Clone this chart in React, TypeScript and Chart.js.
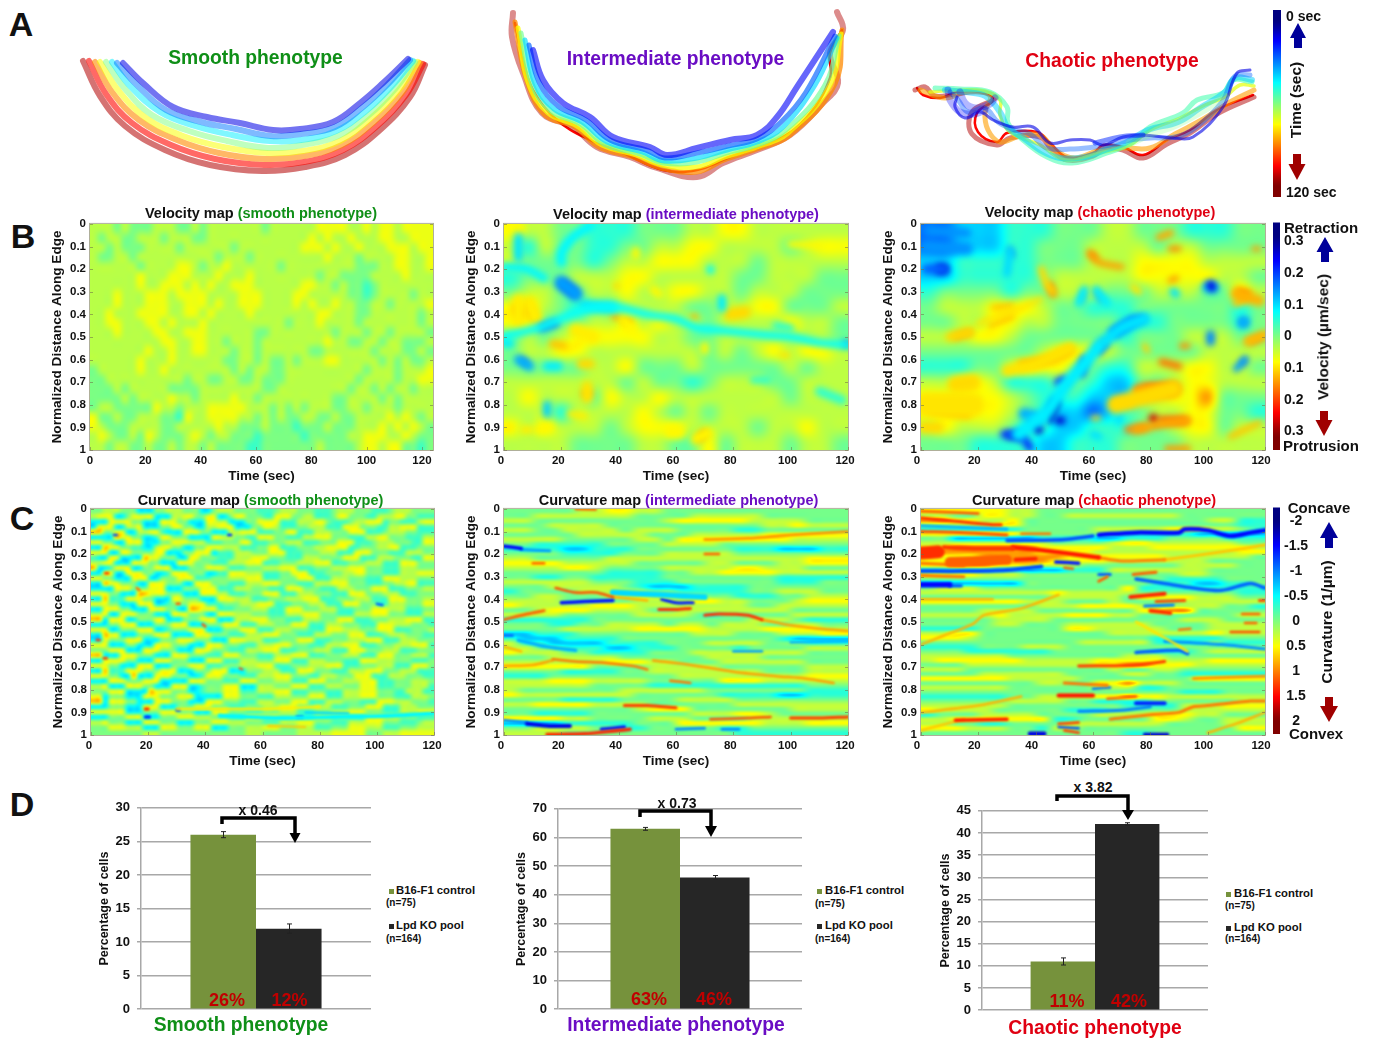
import React, { useEffect, useRef } from "react";
import { Chart, registerables } from "chart.js";

Chart.register(...registerables);
Chart.defaults.font.family = '"Liberation Sans", Arial, sans-serif';

/* ---------- shared value tables ---------- */
const LEVELS = [0.06, 0.14, 0.24, 0.33, 0.42, 0.49, 0.56, 0.62, 0.72, 0.84];
const colorbarLevels = [0, 0.125, 0.25, 0.375, 0.5, 0.625, 0.75, 0.875, 1];
const timeTicks = [0, 20, 40, 60, 80, 100, 120];

/* ---------- panel A: edge contours (x, y pairs, one list per time step) ---------- */
const smoothTimes = [0.1, 0.24, 0.36, 0.5, 0.62, 0.74, 0.87, 0.95];
const smoothEdges = [
  [123,63,143,83,173,107,207,117,240,123,273,130,300,129,333,122,360,103,383,83,408,59],
  [117,63,137,85,166,110,201,122,236,129,271,136,301,134,335,127,363,107,387,85,410,60],
  [112,62,131,87,160,112,195,126,232,135,270,141,301,140,336,131,366,111,391,87,413,61],
  [106,62,125,89,152,115,189,131,227,141,268,148,302,145,338,136,369,115,395,89,415,62],
  [100,62,118,90,146,118,183,136,223,147,267,153,303,151,340,141,371,118,398,91,418,62],
  [95,62,112,92,139,120,177,140,219,153,265,159,304,156,342,145,374,122,402,93,420,63],
  [89,61,106,94,132,123,171,145,215,159,264,165,304,162,343,150,377,126,406,95,423,64],
  [83,61,100,96,125,126,165,150,210,165,262,171,305,167,345,155,380,130,410,97,425,65],
];
const interTimes = [0.12, 0.22, 0.34, 0.48, 0.62, 0.74, 0.95, 0.87];
const interEdges = [
  [533,50,543,80,563,103,590,117,613,137,650,147,667,155,697,148,730,140,757,135,777,117,797,87,833,32],
  [529,45,539,82,558,106,586,120,610,140,646,150,665,158,697,153,728,146,757,139,781,122,806,92,835,36],
  [525,40,535,84,554,109,582,122,607,142,642,152,664,161,697,158,727,150,757,142,783,127,815,85,837,38],
  [521,33,532,84,551,111,580,124,604,144,640,154,663,163,697,162,726,153,757,145,786,130,825,85,839,36],
  [518,28,528,82,548,113,577,126,602,145,636,155,662,165,697,167,725,157,757,147,788,133,830,85,841,34],
  [515,22,526,78,545,115,575,127,599,147,633,157,661,168,697,172,724,160,757,149,790,135,835,84,842,30],
  [513,13,512,37,523,73,542,113,573,127,597,147,630,157,657,168,697,177,723,163,757,150,790,135,823,103,838,83,830,53,843,30,837,12],
  [515,23,523,60,533,90,557,120,590,140,623,153,663,170,697,170,730,157,777,140,807,117,830,78,830,53,842,30],
];
const chaosTimes = [0.12, 0.14, 0.16, 0.5, 0.1, 0.22, 0.33, 0.45, 0.6, 0.72, 0.95, 0.87];
const chaosEdges = [
  [948,90,950,100,960,112,975,114,985,110],
  [960,92,965,103,975,108,990,104,995,98],
  [1095,143,1120,137,1143,135],
  [1130,143,1150,134,1175,125,1200,112,1225,97],
  [957,97,955,107,965,118,980,112,993,120,1013,127,1033,127,1050,143,1070,140,1090,140,1103,145,1123,137,1143,135,1173,138,1193,137,1223,107,1237,73,1250,70],
  [950,92,958,100,968,112,985,108,998,122,1015,130,1030,134,1047,148,1070,149,1095,147,1110,145,1130,140,1150,138,1175,137,1195,128,1222,102,1235,76,1250,75],
  [945,90,965,92,985,96,1000,112,1008,128,1022,137,1040,150,1060,158,1085,157,1105,150,1125,143,1148,130,1178,122,1200,108,1225,92,1235,78,1252,80],
  [935,88,960,89,990,92,1007,107,1008,123,1023,140,1047,157,1072,163,1107,153,1133,142,1150,127,1183,113,1197,100,1223,93,1233,80,1252,82],
  [930,92,960,90,985,91,1000,100,1000,115,1010,132,1040,145,1065,160,1100,153,1130,145,1150,130,1180,118,1205,105,1225,97,1240,85,1254,86],
  [920,90,945,98,970,91,990,96,985,112,988,130,1000,142,1020,136,1040,135,1055,150,1075,158,1100,150,1125,148,1150,148,1175,134,1205,118,1230,102,1254,90],
  [915,90,925,87,935,96,955,94,980,92,995,98,972,112,972,134,997,145,1010,138,1040,137,1052,150,1067,160,1093,156,1105,148,1123,150,1143,158,1167,144,1190,133,1217,114,1254,97],
  [917,88,923,95,940,98,957,92,980,92,993,100,977,113,978,132,997,142,1007,133,1037,132,1050,143,1067,157,1093,153,1103,145,1123,147,1143,155,1167,140,1190,130,1217,110,1253,95],
];

/* ---------- panel B: velocity maps, colour level per cell (rows: distance, columns: time) ---------- */
const velocitySmooth = [
  "66656555666556566666665666666777766767767777","65665566656665566666666666667676676667766777",
  "66565556666566666656666666677767667666777677","65566566666666665666566666666676665666677667",
  "66666656666776566766666656666666665556677667","66666676667776667666766666666566555566667666",
  "66666676677767676677766666677665655456666666","66676667776777766667776666776666655456666566",
  "66676667776677767667776666767667665566566667","66766677776677676666766666666776665566666656",
  "66776667767666766666666665666766665666666656","66676666776677766666655666666665666566566665",
  "66666666677667766566656666666676655665665556","66666667667667766656656666665566666656665565",
  "66666676667666666556656556566677666665656556","56666676676666666656566556666666666566656667",
  "55666666666656655665565556666666665666656677","55565666665555666666665566666666656656566566",
  "55556566667665666676656666666665566665656666","56655555766566677777666565656665566566656666",
  "75565566655476677776656565566556556666767656","76555666655666667665556555455565556667676765",
  "67655657655567656655545555545555566777667655","66566556556566565555445555555655556776775545",
];
const velocityInter = [
  "766554445556677666666","646554455667766665677","655554566777666566666","455566677666665566655",
  "566556676677665666555","776545566665566775556","775556676766566667665","565677777665566666665",
  "566776666666565676776","555556675556555556566","666666656554566655666","676665766766666665666",
  "666466667656566666666","767666567776666566766","666655556655756665665",
];
const velocityChaos = [
  "223334445556655544455","223334455566665665555","334444455566677776666","334444456666677777665",
  "455554556665556665576","566677765544455555545","556677665555444555545","666776555555455566655",
  "555555567776555556666","444556777654466677665","667764445543355677666","777776544433356778555",
  "777776543323456677554","676665443344455677566","555444433444555566666",
];
// each streak: colour position, stroke width, then time, distance pairs
const velocityInterStreaks = [
  [.35,9,5,.06,5,.15],[.37,10,30,.01,24,.06,20,.13,20,.17],[.37,8,0,.19,8,.2,14,.24],
  [.28,14,20,.26,25,.31],[.13,8,20.5,.265,24.5,.305],
  [.38,8,0,.5,6,.48,12,.46,18,.43,25,.39,32,.37,40,.37,50,.4,60,.42,67,.46,75,.47,90,.49,100,.5,110,.525,120,.535],
  [.35,10,28,.36,38,.37],[.22,7,13,.46,18,.44],[.36,9,0,.52,2,.53],[.22,6,119,.53,120,.53],
  [.3,9,5,.6,9,.63],[.2,5,6,.6,8,.62],[.36,9,15,.63,19,.63],[.33,8,15,.8,15,.84],[.36,9,76,.33,76,.37],
  [.38,8,72,.2,72,.205],[.42,8,95,.45,100,.46],[.42,7,87,.69,92,.69],[.42,9,110,.74,118,.78],
  [.64,14,5,.34,5,.43],[.64,14,9,.35,11,.42],[.75,7,4.5,.37,5.5,.4],[.75,6,8,.36,10,.41],
  [.64,14,25,.47,31,.5],[.68,8,17,.53,21,.54],[.66,10,27,.62,30,.62],[.65,12,29,.72,29,.77],[.74,5,28,.75,30,.75],
  [.63,10,42,.43,45,.47],[.71,5,38,.41,40,.415],[.73,5,42,.43,44,.435],[.7,5,66,.41,67,.41],[.66,13,79,.4,84,.39],
  [.63,8,70,.54,70,.56],[.63,13,58,.92,61,.92],[.63,11,67,.95,71,.925],[.76,6,68,.95,70,.925],[.65,6,97,.58,99,.58],
  [.64,8,7,.91,9,.91],[.64,8,1,.9,2,.9],[.63,8,46,.12,46,.14],[.63,7,100,.09,110,.095],[.63,8,52,.29,54,.31],
  [.66,6,39,.275,39.5,.275],[.64,7,23,.84,28,.85],[.63,9,12,.91,16,.9],[.63,8,4,.01,6,.02],
];
const velocityChaosStreaks = [
  [.27,10,3,.03,16,.04],[.27,13,2,.1,16,.11],[.22,10,2,.2,8,.2],[.08,10,6.5,.2,8,.2],[.34,8,31,.12,30,.22],[.24,4,31,.11,32,.14],
  [.66,7,42,.2,44,.27,46,.3],[.75,7,45,.27,46,.31],[.72,6,59,.13,62,.17,70,.19],[.76,5,59,.13,61,.15],
  [.71,7,83,.06,87,.04],[.75,5,87,.11,90,.11],[.72,6,87,.25,89,.24],[.65,7,74,.28,76,.3],
  [.1,9,101,.27,101.5,.28],[.32,12,100,.28,102,.28],[.35,8,88,.3,89,.31],
  [.36,8,57,.29,55,.35],[.36,8,61,.29,65,.35],[.3,4,57,.3,56,.34],[.28,4,61,.3,63,.34],
  [.7,11,110,.31,118,.34],[.74,8,111,.3,114,.31],[.68,8,110,.35,113,.33],
  [.3,10,112,.44,113,.43],[.18,5,112,.43,113,.44],[.26,9,101,.49,101,.52],[.28,7,110,.64,113,.6],[.2,4,112,.62,113,.6],
  [.69,10,114,.52,120,.49],[.75,6,115,.52,119,.5],[.73,6,91,.54,93,.54],[.67,6,78,.54,79,.56],[.76,7,84,.61,90,.63],
  [.66,9,10,.5,17,.48],[.72,6,12,.5,17,.48],[.65,5,20,.44,35,.37,42,.33],[.7,4,24,.45,32,.41],[.7,4,25,.37,32,.36],
  [.65,12,30,.65,40,.62,52,.55],[.7,8,35,.62,45,.6,52,.56],[.66,16,12,.71,18,.7],[.65,24,2,.8,18,.8],[.68,10,4,.82,16,.84],[.66,12,1,.9,6,.9],
  [.36,14,34,.93,39,.88,44,.83,50,.72,57,.62,62,.54],[.35,12,64,.52,70,.46,78,.42],[.25,9,74,.43,67,.48],
  [.18,8,29,.93,35,.94,38,.99],[.1,7,31,.935,35,.94],[.3,12,36,.84,41,.86],[.08,9,39,.87,41,.91],[.06,8,45,.84,47,.79],[.08,6,45,.87,47,.79],[.08,8,48,.87,49,.87],
  [.16,8,48,.7,50,.69],[.2,8,57,.6,56,.66],[.2,8,62,.56,64,.53],[.22,8,68,.48,74,.43,77,.42],
  [.66,18,68,.8,88,.73],[.74,15,76,.74,88,.73],[.79,9,79,.73,86,.73],[.7,7,68,.79,73,.79],
  [.71,9,75,.91,86,.88,93,.87],[.79,8,84,.87,92,.87],[.92,9,81,.86,81.5,.87],[.75,7,72,.91,78,.9],
  [.72,7,86,.995,93,.995],[.68,6,108,.94,118,.88],[.35,8,69,.85,69,.87],[.35,8,60,.93,62,.94],[.66,5,60,.86,62,.86],[.72,5,116,.11,118,.11],
];

/* ---------- panel C: curvature maps ---------- */
const curvatureSmooth = [
  "556665553335566655533566655554445666555444566655544456665555",
  "677733577773336677557733577555447775566444577555446667755444",
  "333777755333777553337766333557777444666775444566777455444677",
  "377733667333557755336677733355776444556664447775554466777444",
  "885577336677433377755333667774445577444666555777444566655444",
  "333387755334775553333776655447775544466777555444667755544466",
  "775533777333557776664445557744455566644455577744456665554477",
  "338775544336775533557776664445577444555667777445556677444555",
  "777337755557733355777344466655577744455566644477755544466655",
  "433773333877555337755544466677755544466655557774446665554477",
  "667733377755333777555444666777444555666777444555666444777555",
  "833477733557773335557776444555666777444555666777555444666555",
  "337733777553347775553344777666444557774445556677555444666777",
  "775533377733555777444555666777444555777444666555444777666555",
  "338775553377755533777555444666777555444666777555444556677444",
  "333377755577733355577744466655544477755544466655577744455566",
  "777553338877755533377766444555777444666555444777555666444555",
  "338444777553337755533377766644455566677744455566644477755566",
  "777553337773345557774445556667774445556664447775554466655577",
  "337775533377755338877744455566644477755566644455577766644455",
  "667337775553337775553377766655544466677755544466677755544466",
  "883777335557733355577733366677755544466655577744455566677744",
  "333557773335557773335557774446665557774446665554447776665554",
  "777335557773345557773335557774446665554447776665557774445556",
  "338773335557773333777555444666777555444666555777444566655544",
  "337555777333555777555333777666444555777444555666777444666555",
  "777333553337775553337775554446667775554446667774445556667774",
  "555777333777555333777555444666777444555666444777555666444555",
  "883337775553337775554447775554446667774445556664447775556664",
  "337777553337775553337774446665557774446665554447776665554445",
  "777553337773335557774445556667774445556667774445556664447775",
  "338444777555777333555777333555666444777555444666777555666444",
  "777553383337775553347775554446667775554466655577744466655544",
  "333777555777333337775554447775556664447775556667774445556665",
  "667333777553337773345557773336665557774446665557774445556664",
  "555777333387775553345557774446667774445554446667775554466644",
  "773555333777555777333337775554446665557774446667775554446665",
  "883777553337775553337775554446665557774446665554447776665554",
  "333555333777333555777555444555666777555666444555777444666555",
  "777777333555777555333777555444555666444555666777555444666777",
  "333555777333555777666555444777666555444666555444777666555444",
  "667555333777555333555777666555444666777555444666777555444566",
  "555777666333777555777333555666777555666444555777666444555666",
  "555555555666555555555555555666555555666666777777555666777777",
];
const curvatureSmoothStreaks = [
  [.64,2.5,30,.885,45,.885,60,.885,80,.875],[.37,4,45,.915,65,.925,85,.92,105,.915,120,.905],
  [.68,2,62,.96,75,.965],[.34,2.5,75,.9,90,.905],[.82,2.5,5,.285,6,.285],[.82,2.5,2,.58,3,.58],[.82,2.5,4.5,.66,5.5,.66],
  [.84,3,19,.885,20,.885],[.16,3,19,.92,20.5,.92],[.8,2,52,.705,53,.71],[.18,2.5,30,.89,31,.89],[.18,2.5,48,.115,49,.115],
  [.2,2.5,72,.92,74,.92],[.78,2.5,39,.51,40,.52],[.78,2.5,30,.42,31,.42],[.22,2.5,100,.42,102,.425],[.76,2.5,16,.35,17,.36],[.2,2.5,8,.115,9,.115],
];
const curvatureInter = [
  "555556677665555555555555","556666666555566666555555","665555555556777776666555","555666655555555555667666",
  "665566665666555544555555","555556666655566666777777","666655555665777777776666","554444455556666555555555",
  "444433444555555544433344","555544445556666655555555","665555566666666666666777","777766666555556655566777",
  "666677655556666677666555","555555544445566777766666","554455444445555555544444","666666555444555555544455",
  "555666665433344445555555","455556666655444445566655","556655566777665544455666","666655555666677665556777",
  "766666777666666665566666","556777666655666666665555","666655555666654555556666","444444555555555556665444",
  "555445566665665666556655","555566666777776666777766","334445555555566655566677","433344445555555555543333",
  "644333344445556666555444","665544433444555545555666","766655444455566666666555","555666665555556666555555",
  "666666677766555666666555","777777555566666555555666","555544445566666666555666","444555555555666666666777",
  "666777666655555777666666","666666555544444444444555","655555556666665555555444","766666666555555444433444",
  "555544445555666655555555","667777666655555566666666","555555555677755555556666","554444555555566677655555",
  "777766555566655556666666","333344444555777777666777","556666554455555445555555","666655555555555544444444",
];
const curvatureInterStreaks = [
  [.12,3.5,0,.165,6,.175],[.28,3,6,.18,16,.185],[.1,4,8,.95,16,.96,23,.96],[.25,2.5,0,.935,8,.945],
  [.84,3.5,15,.998,28,.995,40,.98,44,.975],[.15,3.5,34,.975,42,.965],[.25,2.5,60,.975,70,.97],[.25,2.5,76,.975,82,.975],
  [.14,3.5,20,.415,28,.41,38,.405],[.8,2.5,18,.35,25,.37,32,.37,38,.39],[.7,2.5,38,.39,50,.405],
  [.78,3,0,.49,8,.465,14,.45],[.83,3,54,.445,60,.445,65,.44],[.83,3,70,.47,75,.465,85,.47,90,.49],[.72,2.5,90,.49,100,.515,110,.53,120,.54],
  [.34,6,38,.37,55,.38,70,.39],[.15,3,55,.4,60,.415,66,.415],[.22,2.5,0,.56,3,.56],[.3,3.5,5,.58,15,.61,25,.625],
  [.76,2.5,17,.665,25,.675,35,.68,45,.695,50,.71],[.72,2.5,0,.695,10,.69,17,.67],[.72,2.5,52,.67,65,.69,80,.72,95,.74,105,.75,115,.77],
  [.76,2.5,58,.76,65,.77],[.82,3,42,.87,50,.87,60,.88],[.8,2.5,72,.93,85,.925,93,.92],[.82,3,100,.925,110,.925,120,.92],
  [.74,2.5,70,.135,85,.13,100,.115,120,.1],[.78,2.5,70,.2,75,.2],[.78,2.5,25,0,32,.003],[.28,2.5,80,.63,90,.63],[.3,2.5,100,.59,120,.585],
  [.7,2.5,0,.61,6,.63],[.78,2.5,10,.24,14,.24],
];
const curvatureChaos = [
  "777777665555555555555555","665577665566666666555555","887766755555555555556644","666667755555555555555544",
  "444444455555666667776654","777777755555554444433333","553333334444334445555444","666666666555567766666655",
  "778888887777766677777776","888888887777666666666677","777788888877777776666665","777888888777766666665555",
  "778887776665555555666655","444444433344466666665555","777766655555555555665555","555555555555555554444555",
  "333333355555555544433445","566655555555557444444444","666666666766666555555544","555555555666665777766655",
  "777777766655565555666666","555555556667777666666554","555566665555555778855555","666667666677766555555566",
  "555556666555555555666555","555556655566666655556666","444455555577666665556666","667755555555566666667666",
  "777655555555555544444555","555555555556666644445444","444455566655555555555555","555444444555555544456666",
  "666666555555556665555555","677777766666777776667777","555666666666778877766666","666555555555565566555555",
  "555566666655556655444444","777777666665555555577777","555555556655778666555555","666666555555666445555555",
  "555555555555555555444555","444444556666778776666666","555555666655444455555566","666666555555554444666777",
  "766665555544455555666666","455566665555666677766555","667777777445555577655666","665544555566666665555666",
  "777666554665555555555577","555555555555554455555555",
];
const curvatureChaosStreaks = [
  [.8,2.5,0,.01,20,.02],[.83,3,0,.04,12,.055,25,.07,28,.07],[.3,3,0,.075,30,.09],[.8,3,0,.1,15,.105,30,.115],[.76,2.5,35,.11,45,.11],
  [.2,3.5,30,.14,50,.135,60,.12],[.13,4.5,62,.115,75,.105,90,.105,92,.09,100,.095,108,.12,115,.105,120,.095],
  [.83,13,0,.195,6,.19],[.82,4.5,8,.17,20,.175,32,.175],[.85,4.5,32,.17,40,.18,50,.195,62,.215],[.75,3,62,.215,70,.23,85,.225],[.68,3,85,.225,105,.19,120,.16],
  [.78,10,10,.235,20,.23,30,.225],[.88,4,18,.235,30,.225],[.84,4,33,.225,40,.22],[.76,3,0,.24,15,.25],
  [.2,4,0,.275,15,.275,30,.27,42,.255],[.15,3.5,47,.235,55,.24],[.78,2.5,50,.26,53,.265],[.78,2.5,0,.295,15,.3],[.13,5.5,0,.335,10,.335],[.22,3.5,10,.34,14,.34],
  [.78,3,74,.29,82,.28],[.78,3,62,.32,65,.3],[.22,3,62,.29,66,.29],[.22,3.5,75,.31,85,.33,95,.35,105,.36,115,.33,120,.35],
  [.84,4,73,.39,85,.375],[.7,2.5,0,.4,25,.4],[.8,3,82,.41,92,.405],[.83,4,80,.45,87,.46],[.25,3,78,.43,88,.425],
  [.7,2.5,0,.6,8,.56,18,.51,22,.47,35,.44,48,.38],[.65,2.5,75,.5,85,.57,93,.63],[.27,3,85,.585,105,.6,120,.62],[.22,3.5,75,.635,90,.625,93,.64],
  [.82,3,55,.695,75,.69,85,.675],[.76,3,50,.77,65,.78],[.86,4,48,.825,60,.825],[.24,2.5,60,.795,66,.79],[.78,2.5,65,.84,75,.83],[.16,4,75,.86,85,.86],
  [.25,3,55,.895,70,.89,80,.875],[.7,2.5,0,.9,20,.87,35,.83],[.85,3.5,12,.935,30,.93],[.76,3,66,.93,80,.91,90,.9,95,.875,100,.87,115,.85,120,.85],
  [.68,2.5,0,.98,15,.93],[.7,2.5,100,.99,110,.95,120,.9],[.1,4.5,38,.995,43,.995],[.08,3.5,78,.998,86,.998],[.82,2.5,48,.95,55,.945],[.82,2.5,50,.98,55,.99],[.2,2.5,48,.965,55,.97],
  [.74,2.5,95,.75,120,.74],[.78,2.5,112,.465,118,.465],[.78,2.5,113,.505,117,.505],[.8,2.5,108,.545,118,.545],[.83,2.5,118,.405,120,.405],[.76,2.5,90,.535,94,.53],
];

/* ---------- panel D: bars ---------- */
const barGroups = ["B16-F1 control", "Lpd KO pool"];
const smoothPercent = [26, 12];
const smoothError = [0.45, 0.7];
const interPercent = [63, 46];
const interError = [0.5, 0.7];
const chaosPercent = [11, 42];
const chaosError = [0.8, 0.3];

/* ---------- colour helpers ---------- */
function jet(p: number): [number, number, number] {
  const v = Math.max(0, Math.min(1, p)) * 4;
  const c = (a: number) => Math.max(0, Math.min(1, 1.5 - Math.abs(v - a)));
  return [c(3) * 255, c(2) * 255, c(1) * 255];
}
const jetCss = (p: number, a = 1) => {
  const [r, g, b] = jet(p);
  return `rgba(${r | 0},${g | 0},${b | 0},${a})`;
};
const parseGrid = (rows: string[], gain = 1) =>
  rows.map((r) => [...r].map((c) => 0.53 + (LEVELS[+c] - 0.53) * gain));
const pairs = (a: number[], from = 0) => {
  const out: { x: number; y: number }[] = [];
  for (let i = from; i < a.length; i += 2) out.push({ x: a[i], y: a[i + 1] });
  return out;
};

function catmull(a: number, b: number, c: number, d: number, t: number) {
  return 0.5 * (2 * b + (c - a) * t + (2 * a - 5 * b + 4 * c - d) * t * t + (3 * b - a - 3 * c + d) * t * t * t);
}
function sample(g: number[][], u: number, v: number) {
  const R = g.length, C = g[0].length;
  const fy = v * R - 0.5, fx = u * C - 0.5;
  const iy = Math.floor(fy), ix = Math.floor(fx);
  const ty = fy - iy, tx = fx - ix;
  const row = (j: number) => {
    const r = g[Math.max(0, Math.min(R - 1, j))];
    const at = (i: number) => r[Math.max(0, Math.min(r.length - 1, i))];
    return catmull(at(ix - 1), at(ix), at(ix + 1), at(ix + 2), tx);
  };
  return catmull(row(iy - 1), row(iy), row(iy + 1), row(iy + 2), ty);
}

/* ---------- plugins ---------- */
const softPlugin = {
  id: "soft",
  beforeDatasetsDraw(chart: any, _a: any, opts: any) {
    if (!opts.blur) return;
    chart.ctx.save();
    chart.ctx.filter = `blur(${opts.blur}px)`;
  },
  afterDatasetsDraw(chart: any, _a: any, opts: any) {
    if (opts.blur) chart.ctx.restore();
  },
};
const heatPlugin = {
  id: "heat",
  beforeDatasetsDraw(chart: any, _a: any, opts: any) {
    if (!opts.grid) return;
    const { left, top, width, height } = chart.chartArea;
    const xs = chart.scales.x, ys = chart.scales.y;
    const W = Math.round(width), H = Math.round(height);
    const off = document.createElement("canvas");
    off.width = W; off.height = H;
    const octx = off.getContext("2d")!;
    const img = octx.createImageData(W, H);
    for (let py = 0; py < H; py++) {
      const vv = (ys.getValueForPixel(top + py + 0.5) - ys.min) / (ys.max - ys.min);
      for (let px = 0; px < W; px++) {
        const uu = (xs.getValueForPixel(left + px + 0.5) - xs.min) / (xs.max - xs.min);
        const [r, g, b] = jet(sample(opts.grid, uu, vv));
        const k = (py * W + px) * 4;
        img.data[k] = r; img.data[k + 1] = g; img.data[k + 2] = b; img.data[k + 3] = 255;
      }
    }
    octx.putImageData(img, 0, 0);
    const ctx = chart.ctx;
    ctx.save();
    ctx.beginPath();
    ctx.rect(left, top, W, H);
    ctx.clip();
    ctx.drawImage(off, left, top);
    if (opts.imgBlur) {
      ctx.filter = `blur(${opts.imgBlur}px)`;
      ctx.drawImage(off, left, top);
    }
    ctx.restore();
    if (opts.blur) {
      ctx.save();
      ctx.filter = `blur(${opts.blur}px)`;
    }
  },
  afterDatasetsDraw(chart: any, _a: any, opts: any) {
    if (!opts.grid) return;
    const ctx = chart.ctx;
    if (opts.blur) ctx.restore();
    if (opts.frame) {
      const { left, top, width, height } = chart.chartArea;
      ctx.save();
      ctx.strokeStyle = "rgba(110,110,70,0.55)";
      ctx.lineWidth = 1;
      ctx.strokeRect(left - 0.5, top - 0.5, width + 1, height + 1);
      ctx.beginPath();
      chart.scales.y.ticks.forEach((t: any) => {
        const y = Math.round(chart.scales.y.getPixelForValue(t.value)) + 0.5;
        ctx.moveTo(left, y); ctx.lineTo(left + 3, y);
        ctx.moveTo(left + width, y); ctx.lineTo(left + width - 3, y);
      });
      chart.scales.x.ticks.forEach((t: any) => {
        const x = Math.round(chart.scales.x.getPixelForValue(t.value)) + 0.5;
        ctx.moveTo(x, top + height); ctx.lineTo(x, top + height - 3);
      });
      ctx.stroke();
      ctx.restore();
    }
  },
};

const errorPlugin = {
  id: "errs",
  afterDatasetsDraw(chart: any, _a: any, opts: any) {
    if (!opts.errors) return;
    const ctx = chart.ctx, y = chart.scales.y;
    ctx.save();
    ctx.strokeStyle = "#222";
    ctx.lineWidth = 1;
    chart.data.datasets.forEach((ds: any, i: number) => {
      const el = chart.getDatasetMeta(i).data[0];
      const v = ds.data[0], e = opts.errors[i];
      const x = Math.round(el.x) + 0.5;
      const a = y.getPixelForValue(v + e), b = y.getPixelForValue(v - e);
      ctx.beginPath();
      ctx.moveTo(x, a); ctx.lineTo(x, b);
      ctx.moveTo(x - 2.5, a); ctx.lineTo(x + 2.5, a);
      ctx.moveTo(x - 2.5, b); ctx.lineTo(x + 2.5, b);
      ctx.stroke();
    });
    ctx.restore();
  },
};
Chart.register(heatPlugin as any, errorPlugin as any, softPlugin as any);

/* ---------- chart configs ---------- */
const LEFT = 48, TOPPAD = 8, RIGHT = 15, BOTTOM = 36, EXTRA = 2;

function heatConfig(grid: number[][], streaks: number[][], xMax: number, labelOffset: number, blur: number, imgBlur = 0) {
  return {
    type: "scatter",
    data: {
      datasets: streaks.map((s) => ({
        data: pairs(s, 2),
        showLine: true,
        borderColor: jetCss(s[0]),
        borderWidth: s[1],
        borderCapStyle: "round",
        borderJoinStyle: "round",
        pointRadius: 0,
        tension: 0.3,
      })),
    },
    options: {
      animation: false,
      responsive: false,
      events: [],
      layout: { autoPadding: false, padding: { top: TOPPAD, right: RIGHT, left: 0, bottom: 0 } },
      plugins: { legend: { display: false }, tooltip: { enabled: false }, heat: { grid, blur, imgBlur, frame: true } },
      scales: {
        x: {
          type: "linear", min: 0, max: xMax,
          afterFit: (s: any) => { s.height = BOTTOM; },
          grid: { display: false, drawTicks: false }, border: { display: false },
          afterBuildTicks: (s: any) => { s.ticks = timeTicks.map((value) => ({ value })); },
          ticks: { padding: 4, maxRotation: 0, autoSkip: false, labelOffset, color: "#111", font: { size: 11.5, weight: "bold" } },
          title: { display: true, text: "Time (sec)", color: "#111", padding: { top: 0, bottom: 2 }, font: { size: 13.5, weight: "bold" } },
        },
        y: {
          type: "linear", min: 0, max: 1, reverse: true,
          afterFit: (s: any) => { s.width = LEFT; },
          grid: { display: false, drawTicks: false }, border: { display: false },
          ticks: {
            stepSize: 0.1, padding: 4, color: "#111", font: { size: 11.5, weight: "bold" },
            callback: (v: number) => (v === 0 || v === 1 ? String(v) : Number(v).toFixed(1)),
          },
          title: { display: true, text: "Normalized Distance Along Edge", color: "#111", padding: { top: 7, bottom: 0 }, font: { size: 13.6, weight: "bold" } },
        },
      },
    },
  };
}

function barConfig(values: number[], errors: number[], max: number, step: number) {
  return {
    type: "bar",
    data: {
      labels: ["phenotype"],
      datasets: barGroups.map((label, i) => ({
        label,
        data: [values[i]],
        backgroundColor: i === 0 ? "#76923c" : "#262626",
        barPercentage: 1,
        categoryPercentage: 0.57,
      })),
    },
    options: {
      animation: false,
      responsive: false,
      events: [],
      layout: { autoPadding: false, padding: { top: 8, right: 2, left: 0, bottom: 5 } },
      plugins: { legend: { display: false }, tooltip: { enabled: false }, errs: { errors } },
      scales: {
        x: { display: false },
        y: {
          min: 0, max,
          afterFit: (s: any) => { s.width = 45; },
          grid: { color: "#a8a8a8", lineWidth: 1.5, tickLength: 4, tickColor: "#a8a8a8" },
          border: { color: "#a8a8a8", width: 1.5 },
          ticks: { stepSize: step, padding: 7, color: "#111", font: { size: 13, weight: "bold" } },
          title: { display: true, text: "Percentage of cells", color: "#111", padding: { top: 1, bottom: 0 }, font: { size: 12.5, weight: "bold" } },
        },
      },
    },
  };
}

function edgeConfig(edges: number[][], times: number[], w: number, h: number, x0: number, y0: number, widths: number[], alpha: number[], blur: number, hatch: number) {
  const lines = edges.map((e, i) => ({
    data: pairs(e),
    showLine: true,
    borderColor: jetCss(times[i], alpha[i]),
    borderWidth: widths[i],
    borderCapStyle: "round",
    pointRadius: 0,
    tension: 0.4,
  }));
  const sheen = hatch
    ? edges.map((e) => ({
        data: pairs(e),
        showLine: true,
        borderColor: `rgba(255,255,255,${hatch})`,
        borderWidth: 1,
        pointRadius: 0,
        tension: 0.4,
      }))
    : [];
  return {
    type: "scatter",
    data: { datasets: [...sheen, ...lines] },
    options: {
      animation: false,
      responsive: false,
      events: [],
      layout: { autoPadding: false, padding: 0 },
      plugins: { legend: { display: false }, tooltip: { enabled: false }, soft: { blur } },
      scales: {
        x: { type: "linear", display: false, min: x0, max: x0 + w },
        y: { type: "linear", display: false, min: y0, max: y0 + h, reverse: true },
      },
    },
  };
}

function colorbarConfig(min: number, max: number, step: number | null, fmt: (v: number) => string, cross: string) {
  const grid = colorbarLevels.map((p) => [p]);
  return {
    type: "scatter",
    data: { datasets: [] },
    options: {
      animation: false,
      responsive: false,
      events: [],
      layout: { autoPadding: false, padding: { top: 8, bottom: 8, left: 0, right: 0 } },
      plugins: { legend: { display: false }, tooltip: { enabled: false }, heat: { grid } },
      scales: {
        x: { type: "linear", display: false, min: 0, max: 1 },
        y: {
          type: "linear", position: "right", min, max, reverse: true,
          display: true,
          afterFit: (s: any) => { s.width = step ? 40 : 0; },
          grid: { display: false, drawTicks: false }, border: { display: false },
          ticks: {
            display: !!step, stepSize: step || 1, includeBounds: false, padding: 4, crossAlign: cross,
            color: "#111", font: { size: 14, weight: "bold" }, callback: fmt,
          },
        },
      },
    },
  };
}

/* ---------- components ---------- */
function ChartBox({ left, top, width, height, config }: any) {
  const ref = useRef<HTMLCanvasElement>(null);
  useEffect(() => {
    const c = new Chart(ref.current as any, config());
    return () => c.destroy();
  }, []);
  return <canvas ref={ref} width={width} height={height} style={{ position: "absolute", left, top, width, height }} />;
}

function T({ x, y, size, color = "#111", rot = 0, align = "center", weight = "bold", children }: any) {
  const tx = align === "left" ? "0" : "-50%";
  return (
    <div
      style={{
        position: "absolute", left: x, top: y, fontSize: size, color, fontWeight: weight,
        fontFamily: '"Liberation Sans", Arial, sans-serif', whiteSpace: "nowrap", lineHeight: 1,
        transform: `translate(${tx},-50%) rotate(${rot}deg)`,
      }}
    >
      {children}
    </div>
  );
}

const arrowPts = (c: number, tip: number, base: number, end: number, head: number, shaft: number) =>
  [[c, tip], [c + head, base], [c + shaft, base], [c + shaft, end], [c - shaft, end], [c - shaft, base], [c - head, base]]
    .map((p) => p.join(","))
    .join(" ");

const GREEN = "#0f8f17", PURPLE = "#6a0dc4", RED = "#e00012", DRED = "#c00000";

function Legend({ sq, tx, nx, y1, n1, y2, n2 }: any) {
  return (
    <>
      <div style={{ position: "absolute", left: sq, top: y1 - 2.5, width: 5, height: 5, background: "#76923c" }} />
      <T x={tx} y={y1} size={11.3} align="left">{barGroups[0]}</T>
      <T x={nx} y={n1} size={10} align="left">(n=75)</T>
      <div style={{ position: "absolute", left: sq, top: y2 - 2.5, width: 5, height: 5, background: "#262626" }} />
      <T x={tx} y={y2} size={11.3} align="left">{barGroups[1]}</T>
      <T x={nx} y={n2} size={10} align="left">(n=164)</T>
    </>
  );
}

const heatBox = (pl: number, pt: number, pw: number, ph: number) => ({
  left: pl - LEFT, top: pt - TOPPAD - EXTRA, width: LEFT + pw + RIGHT, height: TOPPAD + EXTRA + ph + BOTTOM,
});

export default function App() {
  return (
    <div style={{ position: "absolute", left: 0, top: 0, width: 1374, height: 1038, background: "#fff", overflow: "hidden" }}>
      {/* A */}
      <ChartBox left={70} top={0} width={370} height={190}
        config={() => edgeConfig(smoothEdges, smoothTimes, 370, 190, 70, 0, [6,6,6,6,6,6,6,6], [.55,.5,.5,.5,.55,.6,.6,.55], 0.5, 0)} />
      <ChartBox left={500} top={0} width={355} height={190}
        config={() => edgeConfig(interEdges, interTimes, 355, 190, 500, 0, [6,5,5,5,5,5,6,2.5], [.6,.65,.65,.65,.75,.75,.45,1], 0.4, 0)} />
      <ChartBox left={905} top={60} width={360} height={115}
        config={() => edgeConfig(chaosEdges, chaosTimes, 360, 115, 905, 60, [7,7,5,8,3,5,6,5,3.5,5,5,2.5], [.3,.3,.5,.25,.6,.4,.5,.6,.75,.6,.5,1], 0.4, 0)} />
      <ChartBox left={1273} top={2} width={8} height={203}
        config={() => colorbarConfig(0, 120, null, () => "", "near")} />

      {/* B */}
      <ChartBox {...heatBox(90, 223, 343, 227)} config={() => heatConfig(parseGrid(velocitySmooth, 0.85), [], 124, 0, 0, 1.5)} />
      <ChartBox {...heatBox(504, 223, 344, 227)} config={() => heatConfig(parseGrid(velocityInter), velocityInterStreaks, 120, -3, 3, 2)} />
      <ChartBox {...heatBox(921, 223, 344, 227)} config={() => heatConfig(parseGrid(velocityChaos), velocityChaosStreaks, 120, -4, 3, 2)} />
      <ChartBox left={1273} top={210} width={47} height={253}
        config={() => colorbarConfig(-0.36, 0.36, 0.1, (v) => (Math.abs(v) < 0.01 ? "0" : Math.abs(v).toFixed(1)), "near")} />

      {/* C */}
      <ChartBox {...heatBox(91, 508, 343, 227)} config={() => heatConfig(parseGrid(curvatureSmooth, 0.8), curvatureSmoothStreaks, 120, -2, 0.9, 0.8)} />
      <ChartBox {...heatBox(504, 508, 344, 227)} config={() => heatConfig(parseGrid(curvatureInter), curvatureInterStreaks, 120, -3, 1, 0.6)} />
      <ChartBox {...heatBox(921, 508, 344, 227)} config={() => heatConfig(parseGrid(curvatureChaos), curvatureChaosStreaks, 120, -4, 1, 0.6)} />
      <ChartBox left={1273} top={495} width={47} height={252}
        config={() => colorbarConfig(-2.28, 2.28, 0.5, (v) => (Math.abs(v) < 0.01 ? "0" : String(v)), "center")} />

      {/* D */}
      <ChartBox left={96} top={793} width={277} height={231} config={() => barConfig(smoothPercent, smoothError, 30, 5)} />
      <ChartBox left={513} top={794} width={291} height={230} config={() => barConfig(interPercent, interError, 70, 10)} />
      <ChartBox left={937} top={796} width={273} height={229} config={() => barConfig(chaosPercent, chaosError, 45, 5)} />

      {/* panel letters */}
      <T x={21} y={24} size={34}>A</T>
      <T x={23} y={236} size={34}>B</T>
      <T x={22} y={518} size={34}>C</T>
      <T x={22} y={804} size={34}>D</T>

      {/* A text */}
      <T x={255.5} y={58} size={19.3} color={GREEN}>Smooth phenotype</T>
      <T x={675.5} y={59} size={19.3} color={PURPLE}>Intermediate phenotype</T>
      <T x={1112} y={61} size={19.3} color={RED}>Chaotic phenotype</T>
      <T x={1286} y={16} size={14} align="left">0 sec</T>
      <T x={1286} y={192} size={14} align="left">120 sec</T>
      <T x={1296} y={100} size={15.5} rot={-90}>Time (sec)</T>

      {/* B/C titles */}
      <T x={261} y={213} size={14.5}>Velocity map <span style={{ color: GREEN }}>(smooth phenotype)</span></T>
      <T x={686} y={214} size={14.5}>Velocity map <span style={{ color: PURPLE }}>(intermediate phenotype)</span></T>
      <T x={1100} y={212} size={14.5}>Velocity map <span style={{ color: RED }}>(chaotic phenotype)</span></T>
      <T x={260.5} y={499.5} size={14.5}>Curvature map <span style={{ color: GREEN }}>(smooth phenotype)</span></T>
      <T x={678.5} y={499.5} size={14.5}>Curvature map <span style={{ color: PURPLE }}>(intermediate phenotype)</span></T>
      <T x={1094} y={499.5} size={14.5}>Curvature map <span style={{ color: RED }}>(chaotic phenotype)</span></T>

      <T x={1321} y={227} size={15}>Retraction</T>
      <T x={1321} y={445} size={15}>Protrusion</T>
      <T x={1323} y={337} size={15.5} rot={-90}>Velocity (µm/sec)</T>
      <T x={1319} y={507} size={15}>Concave</T>
      <T x={1316} y={733} size={15}>Convex</T>
      <T x={1327} y={622} size={15.5} rot={-90}>Curvature (1/µm)</T>

      {/* D text */}
      <T x={241} y={1025} size={19.3} color={GREEN}>Smooth phenotype</T>
      <T x={676} y={1025} size={19.3} color={PURPLE}>Intermediate phenotype</T>
      <T x={1095} y={1028} size={19.3} color={RED}>Chaotic phenotype</T>
      <T x={258} y={810} size={14}>x 0.46</T>
      <T x={677} y={803} size={14}>x 0.73</T>
      <T x={1093} y={787} size={14}>x 3.82</T>
      <T x={227} y={1000} size={18} color={DRED}>{smoothPercent[0]}%</T>
      <T x={289.5} y={1000} size={18} color={DRED}>{smoothPercent[1]}%</T>
      <T x={649} y={999} size={18} color={DRED}>{interPercent[0]}%</T>
      <T x={714} y={999} size={18} color={DRED}>{interPercent[1]}%</T>
      <T x={1067} y={1001} size={18} color={DRED}>{chaosPercent[0]}%</T>
      <T x={1129} y={1001} size={18} color={DRED}>{chaosPercent[1]}%</T>

      <Legend sq={389} tx={396} nx={386} y1={891} n1={903} y2={926} n2={939} />
      <Legend sq={817} tx={825} nx={815} y1={891} n1={904} y2={926} n2={939} />
      <Legend sq={1226} tx={1234} nx={1225} y1={894} n1={906} y2={928} n2={939} />

      {/* arrows and brackets */}
      <svg width={1374} height={1038} style={{ position: "absolute", left: 0, top: 0, pointerEvents: "none" }}>
        <polygon points={arrowPts(1298, 23, 38, 48, 8, 4)} fill="#00009a" />
        <polygon points={arrowPts(1297, 180, 164, 154, 8.5, 4)} fill="#a00000" />
        <polygon points={arrowPts(1325, 237, 252, 262, 8.5, 4)} fill="#00009a" />
        <polygon points={arrowPts(1324, 436, 420, 411, 8.5, 4)} fill="#a00000" />
        <polygon points={arrowPts(1329, 522, 538, 548, 9, 4)} fill="#00009a" />
        <polygon points={arrowPts(1329, 722, 706, 697, 9, 4)} fill="#a00000" />
        <polyline points="222,824 222,818 295,818 295,835" fill="none" stroke="#000" strokeWidth={3.5} />
        <polygon points={arrowPts(295, 843, 833, 833, 5.5, 1)} fill="#000" />
        <polyline points="640,817 640,811 711,811 711,828" fill="none" stroke="#000" strokeWidth={3.5} />
        <polygon points={arrowPts(711, 837, 826, 826, 6, 1)} fill="#000" />
        <polyline points="1057,801 1057,796 1128,796 1128,812" fill="none" stroke="#000" strokeWidth={3.5} />
        <polygon points={arrowPts(1128, 820, 810, 810, 6, 1)} fill="#000" />
      </svg>
    </div>
  );
}
